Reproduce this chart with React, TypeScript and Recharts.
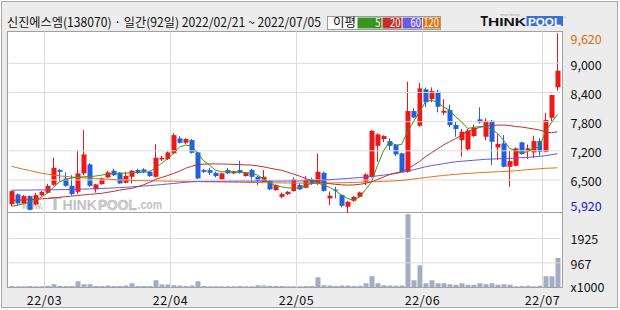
import React from 'react';
import { ComposedChart, Bar, Line, XAxis, YAxis, ReferenceLine } from 'recharts';

// ---- data ----
const OPEN = [
  6100, 6303, 6117, 6268, 6097, 6288, 6336, 6500, 6803, 6632,
  6480, 6356, 6735, 6920, 6406, 6515, 6653, 6790, 6748, 6542,
  6665, 6803, 6817, 6768, 6665, 7023, 7029, 7147, 7456, 7365,
  7420, 7167, 6803, 6803, 6747, 6612, 6803, 6735, 6803, 6680,
  6803, 6665, 6562, 6577, 6391, 6253, 6309, 6371, 6494, 6439,
  6618, 6529, 6747, 6220, 6400, 6288, 6048, 6171, 6253, 6562,
  6665, 7303, 7442, 7400, 7318, 7147, 6768, 8018, 7715, 8465,
  8265, 8415, 7983, 8038, 7730, 7420, 7229, 7503, 7847, 7489,
  7818, 7270, 7353, 6871, 6892, 7373, 7200, 7167, 7400, 7180,
  7880, 8506,
];
const HIGH = [
  6380, 6323, 6290, 6280, 6336, 6370, 6520, 7056, 6830, 6756,
  6700, 7200, 7626, 6950, 6520, 6650, 6790, 6830, 6760, 6770,
  6803, 6830, 6840, 6790, 7338, 7100, 7190, 7560, 7500, 7460,
  7440, 7180, 6830, 6850, 6770, 6750, 6850, 6790, 6995, 6760,
  6830, 6680, 6803, 6600, 6510, 6340, 6371, 6650, 6530, 6680,
  6650, 7147, 6770, 6360, 6460, 6300, 6171, 6270, 6360, 6735,
  7630, 7560, 7520, 7455, 7340, 7160, 8621, 8080, 8600, 8500,
  8506, 8460, 8259, 8150, 7800, 7650, 7650, 7740, 8094, 7870,
  7830, 7544, 7524, 7200, 7270, 7390, 7330, 7510, 7460, 7983,
  8348, 9620,
];
const LOW = [
  6060, 6068, 6100, 5975, 6080, 6270, 6320, 6480, 6560, 6459,
  6280, 6309, 6700, 6460, 6340, 6500, 6640, 6680, 6520, 6530,
  6530, 6720, 6740, 6660, 6650, 6990, 7010, 7130, 7350, 7340,
  7140, 6620, 6740, 6700, 6650, 6600, 6720, 6720, 6730, 6670,
  6545, 6494, 6550, 6390, 6380, 6220, 6290, 6360, 6390, 6430,
  6500, 6494, 6360, 6082, 6220, 6035, 5920, 6150, 6240, 6494,
  6650, 6974, 7380, 7215, 7090, 6760, 6750, 7870, 7700, 8100,
  8200, 7990, 7936, 7690, 7490, 7077, 7200, 7490, 7760, 7420,
  6906, 7010, 6860, 6459, 6880, 7120, 7030, 7050, 7100, 7170,
  7795, 8436,
];
const CLOSE = [
  6370, 6117, 6268, 5985, 6288, 6356, 6480, 6850, 6768, 6480,
  6309, 6735, 7126, 6480, 6509, 6632, 6756, 6700, 6529, 6686,
  6790, 6748, 6768, 6680, 7056, 7056, 7167, 7523, 7365, 7442,
  7160, 6632, 6768, 6747, 6680, 6735, 6735, 6780, 6747, 6747,
  6665, 6577, 6665, 6406, 6494, 6309, 6356, 6612, 6406, 6612,
  6515, 6768, 6377, 6274, 6385, 6068, 6150, 6253, 6343, 6714,
  7612, 7538, 7503, 7303, 7126, 6768, 8018, 7888, 8485, 8197,
  8430, 8106, 8024, 7730, 7647, 7592, 7612, 7674, 7785, 7818,
  7386, 7339, 6871, 6988, 7250, 7132, 7250, 7400, 7180, 7833,
  8347, 8848,
];
// volume in thousands of shares
const VOLUME = [
  55, 50, 45, 60, 50, 45, 70, 130, 60, 55,
  60, 247, 130, 130, 60, 55, 75, 60, 60, 75,
  169, 60, 55, 60, 287, 117, 117, 90, 78, 60,
  80, 247, 60, 50, 45, 50, 45, 50, 60, 50,
  45, 90, 80, 70, 60, 55, 50, 45, 50, 55,
  60, 404, 90, 80, 60, 80, 75, 60, 70, 169,
  444, 169, 90, 80, 70, 75, 2878, 287, 876, 169,
  287, 169, 169, 130, 104, 169, 104, 104, 169, 130,
  169, 104, 130, 104, 50, 60, 70, 50, 70, 444,
  444, 1163,
];
const MA5 = [
  6060, 6080, 6110, 6140, 6185, 6250, 6330, 6450, 6560, 6612,
  6640, 6660, 6665, 6670, 6680, 6700, 6720, 6735, 6740, 6740,
  6745, 6750, 6760, 6768, 6850, 6941, 7040, 7147, 7280, 7318,
  7300, 7150, 7000, 6906, 6800, 6768, 6768, 6765, 6760, 6750,
  6740, 6700, 6620, 6550, 6480, 6459, 6440, 6426, 6440, 6480,
  6530, 6540, 6494, 6450, 6380, 6288, 6220, 6185, 6250, 6400,
  6562, 6900, 7200, 7386, 7318, 7330, 7592, 7798, 8000, 8209,
  8244, 8200, 8100, 8038, 7900, 7798, 7661, 7680, 7700, 7695,
  7640, 7559, 7420, 7250, 7200, 7160, 7180, 7250, 7280, 7600,
  7780, 7950,
];
const MA20 = [
  6180, 6185, 6190, 6195, 6200, 6210, 6220, 6232, 6244, 6256,
  6268, 6280, 6292, 6303, 6315, 6325, 6345, 6365, 6390, 6410,
  6426, 6460, 6500, 6550, 6612, 6650, 6690, 6735, 6780, 6840,
  6880, 6915, 6925, 6930, 6930, 6928, 6925, 6920, 6915, 6910,
  6905, 6890, 6870, 6845, 6820, 6800, 6760, 6720, 6680, 6630,
  6585, 6565, 6545, 6525, 6510, 6500, 6494, 6498, 6510, 6530,
  6560, 6610, 6660, 6710, 6745, 6768, 6830, 6900, 6980, 7077,
  7160, 7240, 7320, 7386, 7450, 7520, 7600, 7640, 7680, 7710,
  7720, 7728, 7730, 7720, 7700, 7690, 7670, 7650, 7627, 7590,
  7571, 7592,
];
const MA60 = [
  6390, 6390, 6392, 6392, 6394, 6395, 6396, 6398, 6400, 6402,
  6405, 6408, 6412, 6416, 6420, 6425, 6430, 6436, 6442, 6450,
  6458, 6466, 6475, 6484, 6494, 6505, 6516, 6528, 6540, 6552,
  6562, 6568, 6570, 6572, 6572, 6572, 6573, 6574, 6575, 6575,
  6575, 6575, 6575, 6575, 6576, 6576, 6577, 6578, 6579, 6580,
  6583, 6590, 6598, 6606, 6614, 6622, 6630, 6640, 6650, 6660,
  6670, 6685, 6700, 6715, 6735, 6755, 6780, 6810, 6840, 6871,
  6895, 6915, 6935, 6955, 6974, 6985, 6995, 7005, 7015, 7025,
  7030, 7035, 7040, 7045, 7050, 7060, 7065, 7075, 7085, 7100,
  7120, 7140,
];
const MA120 = [
  6880, 6850, 6820, 6795, 6765, 6740, 6720, 6700, 6685, 6672,
  6662, 6652, 6645, 6638, 6630, 6622, 6615, 6608, 6600, 6595,
  6590, 6587, 6584, 6582, 6580, 6578, 6576, 6574, 6572, 6570,
  6568, 6566, 6564, 6562, 6560, 6558, 6556, 6554, 6552, 6550,
  6548, 6546, 6544, 6542, 6540, 6539, 6538, 6537, 6536, 6535,
  6534, 6534, 6535, 6537, 6540, 6543, 6546, 6550, 6553, 6557,
  6561, 6566, 6571, 6576, 6582, 6590, 6605, 6620, 6635, 6650,
  6665, 6680, 6692, 6704, 6715, 6725, 6735, 6742, 6750, 6756,
  6762, 6768, 6775, 6782, 6790, 6800, 6810, 6820, 6830, 6840,
  6845, 6850,
];
const MONTH_START_INDEX = [6, 27, 48, 69, 89];
const MONTH_LABELS = ['22/03', '22/04', '22/05', '22/06', '22/07'];
const PRICE_TICKS = [9620, 9000, 8400, 7800, 7200, 6600, 5920];
const PRICE_LABELS = ['9,620', '9,000', '8,400', '7,800', '7,200', '6,500', '5,920'];
const PRICE_GRID = [9000, 8400, 7800, 7200, 6600];
const VOL_TICKS = [1925, 967, 0];
const VOL_LABELS = ['1925', '967', 'x1000'];
const VOL_GRID = [1925, 967];
const TITLE = '신진에스엠(138070) · 일간(92일) 2022/02/21 ~ 2022/07/05';
const LEGEND_TITLE = '이평';
const LEGEND_ITEMS = ['5', '20', '60', '120'];

// ---- styles ----
const RED = '#f01616';
const BLUE = '#1f5fe0';
const C_MA5 = '#3a9520';
const C_MA20 = '#bf2e2e';
const C_MA60 = '#6655dd';
const C_MA120 = '#e07412';
const GRID = '#dcdcdc';
const FRAME = '#a0a0a0';
const VOL_FILL = '#a4acc4';
const FONT = "'Noto Sans CJK KR', 'Noto Sans', sans-serif";
const LEGEND_COLORS = [C_MA5, '#c3302b', '#6a5fd8', '#df7412'];
const LEGEND_BOXES = [
  [357.5, 24],
  [382.5, 19],
  [402.5, 19.5],
  [423, 17],
];

const rows = OPEN.map((o, i) => ({
  i,
  open: o,
  high: HIGH[i],
  low: LOW[i],
  close: CLOSE[i],
  range: [LOW[i], HIGH[i]],
  vol: VOLUME[i],
  ma5: MA5[i],
  ma20: MA20[i],
  ma60: MA60[i],
  ma120: MA120[i],
}));

const Candle = (props: any) => {
  let { x, y, width, height, payload } = props;
  if (height < 0) {
    y = y + height;
    height = -height;
  }
  const { open, close, high, low } = payload;
  const color = close >= open ? RED : BLUE;
  const span = high - low;
  const k = span > 0 ? height / span : 0;
  const yOf = (v: number) => y + (high - v) * k;
  const top = yOf(Math.max(open, close));
  const bot = yOf(Math.min(open, close));
  const cx = Math.round(x + width / 2) - 0.5;
  return (
    <g>
      <rect x={cx - 0.5} y={y} width={1} height={Math.max(height, 1)} fill={color} />
      <rect x={x} y={top} width={width} height={Math.max(bot - top, 1)} fill={color} />
    </g>
  );
};

const PriceTick = (props: any) => {
  const { x, y, payload } = props;
  const idx = PRICE_TICKS.indexOf(payload.value);
  const last = PRICE_TICKS.length - 1;
  const fill = idx === 0 ? '#d2700c' : idx === last ? '#1818cc' : '#111';
  const dy = idx === 0 ? 5 : idx === last ? -8 : 1;
  return (
    <text x={x} y={y + dy} dominantBaseline="central" textAnchor="start" fontSize={12.5} fontFamily={FONT} fill={fill}>
      {PRICE_LABELS[idx]}
    </text>
  );
};

const VolTick = (props: any) => {
  const { x, y, payload } = props;
  const idx = VOL_TICKS.indexOf(payload.value);
  const dy = idx === VOL_TICKS.length - 1 ? -1.5 : 0.5;
  return (
    <text x={x} y={y + dy} dominantBaseline="central" textAnchor="start" fontSize={12.5} fontFamily={FONT} fill="#111">
      {VOL_LABELS[idx]}
    </text>
  );
};

const MonthTick = (props: any) => {
  const { x, y, payload } = props;
  const idx = MONTH_START_INDEX.indexOf(payload.value);
  return (
    <text x={x} y={y} dominantBaseline="central" textAnchor="middle" fontSize={12.5} fontFamily={FONT} fill="#111" letterSpacing={0.6}>
      {MONTH_LABELS[idx]}
    </text>
  );
};

const Background = () => (
  <svg width={620} height={310} style={{ position: 'absolute', left: 0, top: 0 }}>
    <rect x={0} y={0} width={620} height={310} fill="#ffffff" />
    <rect x={1.5} y={1.5} width={616} height={306} fill="#ececec" stroke="#a8a8a8" />
    <rect x={7.5} y={31.5} width={555} height={181} fill="#ffffff" stroke={FRAME} />
    <rect x={7.5} y={212.5} width={555} height={75} fill="#ffffff" stroke={FRAME} />
    <text x={7} y={26.5} fontSize={12.5} fontFamily={FONT} fill="#111" textLength={314} lengthAdjust="spacingAndGlyphs">
      {TITLE}
    </text>
    {/* legend */}
    <rect x={327.5} y={16.5} width={113} height={13} fill="#ffffff" stroke="#9c9c9c" />
    <text x={333} y={27} fontSize={12.5} fontFamily={FONT} fill="#111">
      {LEGEND_TITLE}
    </text>
    {LEGEND_ITEMS.map((t, k) => (
      <g key={t}>
        <rect x={LEGEND_BOXES[k][0]} y={17.5} width={LEGEND_BOXES[k][1]} height={11} fill={LEGEND_COLORS[k]} />
        <text
          x={LEGEND_BOXES[k][0] + LEGEND_BOXES[k][1] - 1}
          y={27.2}
          fontSize={11.5}
          fontFamily={FONT}
          fill="#ffffff"
          textAnchor="end"
          textLength={t.length * 5.2}
          lengthAdjust="spacingAndGlyphs"
        >
          {t}
        </text>
      </g>
    ))}
    {/* logo */}
    <text x={500} y={15.5} fontSize={3.5} fontFamily="'Liberation Sans', sans-serif" fill="#aaa">smart design</text>
    <text x={480.5} y={25.5} fontSize={14} fontWeight="bold" fontFamily="'Liberation Sans', Arial, sans-serif" fill="#111" textLength={7.5} lengthAdjust="spacingAndGlyphs">T</text>
    <text x={488} y={25.5} fontSize={11} fontWeight="bold" fontFamily="'Liberation Sans', Arial, sans-serif" fill="#111" textLength={38} lengthAdjust="spacingAndGlyphs">HINK</text>
    <rect x={526.5} y={16} width={36.5} height={10} fill="#3a6fd8" />
    <text x={528} y={25.5} fontSize={11.5} fontWeight="bold" fontFamily="'Liberation Sans', Arial, sans-serif" fill="#ffffff" textLength={33} lengthAdjust="spacingAndGlyphs">POOL</text>
    <text x={563.5} y={19} fontSize={4} fontFamily="'Liberation Sans', sans-serif" fill="#999">®</text>
    {/* watermark */}
    <g fill="#c2c2c2" fontFamily="'Liberation Sans', Arial, sans-serif" fontWeight="bold">
      <text x={22} y={209} fontSize={10.5} textLength={21} lengthAdjust="spacingAndGlyphs">www.</text>
      <text x={48.5} y={209.5} fontSize={18} textLength={13} lengthAdjust="spacingAndGlyphs">T</text>
      <text x={62.5} y={209.5} fontSize={14.5} textLength={34.5} lengthAdjust="spacingAndGlyphs">HINK</text>
      <text x={98} y={209.5} fontSize={14.5} textLength={38.5} lengthAdjust="spacingAndGlyphs" fill="#d2d2d2" stroke="#b8b8b8" strokeWidth={0.6}>POOL</text>
      <text x={137.5} y={209} fontSize={12} textLength={24.5} lengthAdjust="spacingAndGlyphs">.com</text>
    </g>
  </svg>
);

export default function App() {
  return (
    <div style={{ position: 'absolute', left: 0, top: 0, width: 620, height: 310, overflow: 'hidden' }}>
      <Background />
      <div style={{ position: 'absolute', left: 0, top: 0 }}>
        <ComposedChart width={620} height={213} data={rows} margin={{ top: 31.5, right: 9.5, bottom: 0, left: 8.5 }}>
          <XAxis xAxisId="num" dataKey="i" type="number" domain={[0, 92]} allowDataOverflow hide />
          <XAxis xAxisId="cat" dataKey="i" type="category" orientation="top" hide />
          <YAxis
            yAxisId="p"
            orientation="right"
            width={50}
            domain={[5920, 9655]}
            allowDataOverflow
            ticks={PRICE_TICKS}
            interval={0}
            tickLine={false}
            axisLine={false}
            tickSize={0}
            tickMargin={10}
            tick={<PriceTick />}
          />
          {PRICE_GRID.map((v) => (
            <ReferenceLine key={'h' + v} xAxisId="num" yAxisId="p" y={v} stroke={GRID} strokeWidth={1} />
          ))}
          {MONTH_START_INDEX.map((v) => (
            <ReferenceLine key={'v' + v} xAxisId="num" yAxisId="p" x={v} stroke={GRID} strokeWidth={1} />
          ))}
          <Bar xAxisId="cat" yAxisId="p" dataKey="range" barSize={5} shape={<Candle />} isAnimationActive={false} />
          <Line xAxisId="cat" yAxisId="p" dataKey="ma120" stroke={C_MA120} strokeWidth={1} dot={false} activeDot={false} isAnimationActive={false} />
          <Line xAxisId="cat" yAxisId="p" dataKey="ma60" stroke={C_MA60} strokeWidth={1} dot={false} activeDot={false} isAnimationActive={false} />
          <Line xAxisId="cat" yAxisId="p" dataKey="ma20" stroke={C_MA20} strokeWidth={1} dot={false} activeDot={false} isAnimationActive={false} />
          <Line xAxisId="cat" yAxisId="p" dataKey="ma5" stroke={C_MA5} strokeWidth={1} dot={false} activeDot={false} isAnimationActive={false} />
        </ComposedChart>
      </div>
      <div style={{ position: 'absolute', left: 0, top: 212 }}>
        <ComposedChart width={620} height={98} data={rows} margin={{ top: 0.5, right: 9.5, bottom: 0, left: 8.5 }}>
          <XAxis
            xAxisId="num"
            dataKey="i"
            type="number"
            domain={[0, 92]}
            allowDataOverflow
            ticks={MONTH_START_INDEX}
            interval={0}
            height={22.5}
            tickLine={false}
            axisLine={false}
            tickSize={0}
            tickMargin={12}
            tick={<MonthTick />}
          />
          <XAxis xAxisId="cat" dataKey="i" type="category" orientation="top" hide />
          <YAxis
            yAxisId="v"
            orientation="right"
            width={50}
            domain={[0, 2945]}
            allowDataOverflow
            ticks={VOL_TICKS}
            interval={0}
            tickLine={false}
            axisLine={false}
            tickSize={0}
            tickMargin={10}
            tick={<VolTick />}
          />
          {VOL_GRID.map((v) => (
            <ReferenceLine key={'vh' + v} xAxisId="num" yAxisId="v" y={v} stroke={GRID} strokeWidth={1} />
          ))}
          {MONTH_START_INDEX.map((v) => (
            <ReferenceLine key={'vv' + v} xAxisId="num" yAxisId="v" x={v} stroke={GRID} strokeWidth={1} />
          ))}
          <Bar xAxisId="cat" yAxisId="v" dataKey="vol" barSize={5} fill={VOL_FILL} isAnimationActive={false} />
        </ComposedChart>
      </div>
    </div>
  );
}
